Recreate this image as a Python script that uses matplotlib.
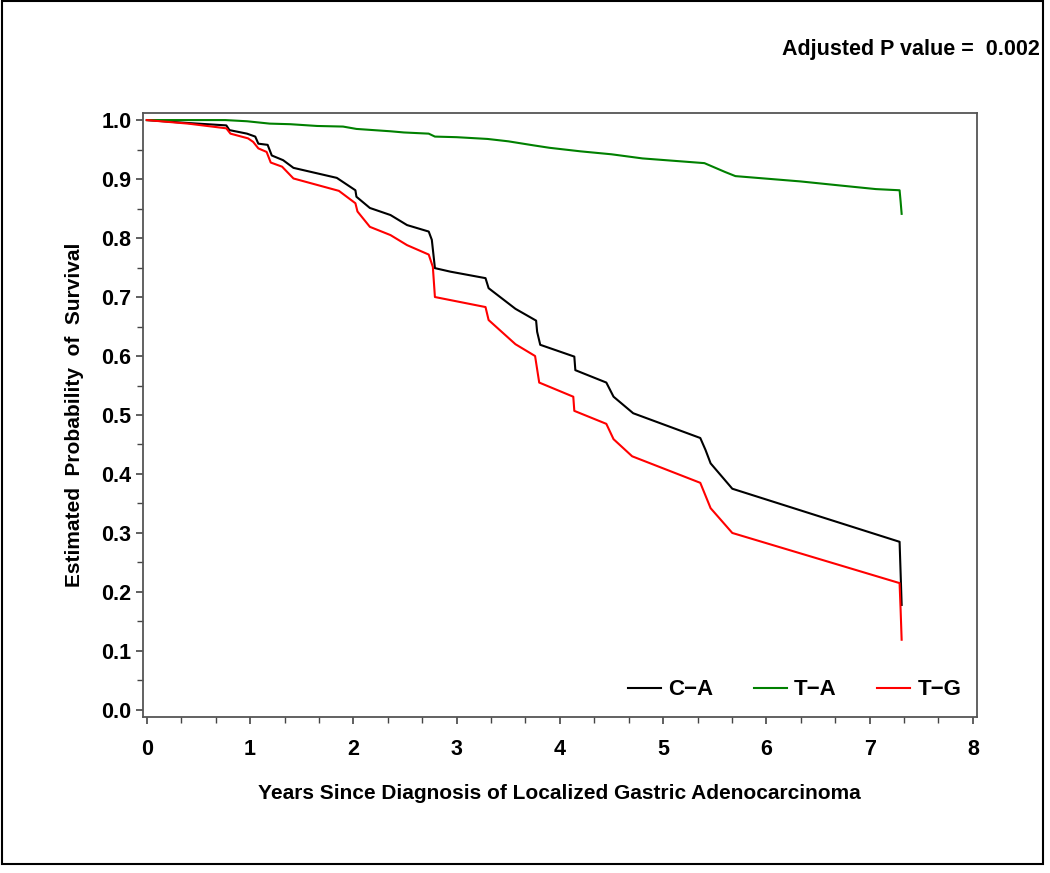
import matplotlib
matplotlib.use("Agg")
import matplotlib.pyplot as plt
from matplotlib.ticker import MultipleLocator, FormatStrFormatter
from matplotlib.patches import Rectangle

plt.rcParams['font.family'] = ['Liberation Sans', 'DejaVu Sans']
plt.rcParams['font.weight'] = 'bold'

# Kaplan-Meier curves
ca_years = [0.00, 0.40, 0.77, 0.80, 0.97, 1.05, 1.08, 1.17, 1.21, 1.32, 1.42, 1.84,
            2.02, 2.03, 2.16, 2.36, 2.52, 2.73, 2.76, 2.79, 2.94, 3.28, 3.31, 3.57,
            3.77, 3.78, 3.81, 4.14, 4.15, 4.45, 4.52, 4.71, 5.36, 5.41, 5.46, 5.67,
            7.29, 7.30, 7.31]
ca_surv = [1.000, 0.995, 0.991, 0.983, 0.977, 0.972, 0.960, 0.958, 0.940, 0.932, 0.919, 0.902,
           0.881, 0.870, 0.851, 0.839, 0.822, 0.811, 0.797, 0.749, 0.743, 0.732, 0.715, 0.680,
           0.660, 0.641, 0.619, 0.599, 0.576, 0.555, 0.531, 0.503, 0.461, 0.441, 0.418, 0.375,
           0.285, 0.232, 0.178]

ta_years = [0.00, 0.76, 0.97, 1.19, 1.39, 1.65, 1.90, 2.03, 2.36, 2.49, 2.73, 2.79,
            3.00, 3.30, 3.50, 3.75, 3.90, 4.20, 4.50, 4.80, 5.40, 5.60, 5.70, 6.33,
            6.72, 7.06, 7.29, 7.30, 7.31]
ta_surv = [1.000, 1.000, 0.998, 0.994, 0.993, 0.990, 0.989, 0.985, 0.981, 0.979, 0.977, 0.972,
           0.971, 0.968, 0.964, 0.957, 0.953, 0.947, 0.942, 0.935, 0.927, 0.912, 0.905, 0.896,
           0.889, 0.883, 0.881, 0.862, 0.841]

tg_years = [0.00, 0.40, 0.77, 0.81, 0.98, 1.03, 1.08, 1.16, 1.20, 1.31, 1.42, 1.86,
            2.02, 2.04, 2.16, 2.36, 2.52, 2.73, 2.77, 2.79, 3.28, 3.31, 3.57, 3.76,
            3.80, 4.13, 4.14, 4.45, 4.52, 4.70, 5.36, 5.46, 5.67, 7.29, 7.30, 7.31]
tg_surv = [1.000, 0.994, 0.986, 0.977, 0.969, 0.963, 0.952, 0.946, 0.928, 0.921, 0.901, 0.880,
           0.859, 0.845, 0.819, 0.805, 0.788, 0.772, 0.751, 0.700, 0.683, 0.661, 0.620, 0.600,
           0.555, 0.531, 0.507, 0.485, 0.459, 0.430, 0.385, 0.342, 0.300, 0.215, 0.170, 0.119]

labels = ["C\u2212A", "T\u2212A", "T\u2212G"]
colors = ["black", "#008000", "#ff0000"]

fig = plt.figure(figsize=(10.5, 8.73), dpi=100)
ax = fig.add_axes([0.1359, 0.1787, 0.7946, 0.6922])

for x, y, lab, c in zip([ca_years, ta_years, tg_years], [ca_surv, ta_surv, tg_surv], labels, colors):
    ax.plot(x, y, color=c, lw=1.5, label=lab)

ax.set_xlim(-0.04, 8.04)
ax.set_ylim(-0.012, 1.0125)
ax.xaxis.set_major_locator(MultipleLocator(1))
ax.xaxis.set_minor_locator(MultipleLocator(1 / 3))
ax.yaxis.set_major_locator(MultipleLocator(0.1))
ax.yaxis.set_minor_locator(MultipleLocator(0.05))
ax.yaxis.set_major_formatter(FormatStrFormatter('%.1f'))

ax.tick_params(which='major', length=5, width=1.2, color='#444444', labelsize=15.5)
ax.tick_params(which='minor', length=4, width=1.0, color='#444444')
ax.tick_params(axis='x', which='major', pad=11)
ax.tick_params(axis='y', which='major', pad=3)
for s in ax.spines.values():
    s.set_color('#555555')
    s.set_linewidth(1.3)

ax.set_xlabel("Years Since Diagnosis of Localized Gastric Adenocarcinoma", fontsize=15,
              fontweight='bold', va='center')
ax.xaxis.set_label_coords(0.5, -0.126)
ax.set_ylabel("Estimated  Probability  of  Survival", fontsize=15, fontweight='bold', va='center')
ax.yaxis.set_label_coords(-0.0823, 0.5)

ax.legend(loc='center right', bbox_to_anchor=(1.005, 0.045), ncol=3, frameon=False,
          fontsize=16, handlelength=1.5, handletextpad=0.32, columnspacing=1.8)

fig.text(0.990, 0.943, "Adjusted P value =  0.002", fontsize=15.5, fontweight='bold',
         ha='right', va='center')

fig.patches.append(Rectangle((0.0015, 0.0103), 0.9918, 0.9882, transform=fig.transFigure,
                             fill=False, edgecolor='black', linewidth=1.5))

fig.savefig("out.png", dpi=100)
